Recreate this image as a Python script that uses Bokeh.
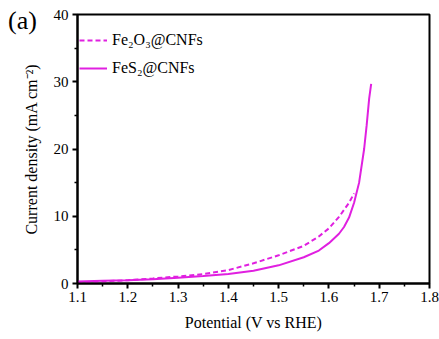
from bokeh.plotting import figure
from bokeh.models import Legend, LegendItem, Range1d, FixedTicker, Div
from bokeh.layouts import column
from bokeh.embed import file_html
from bokeh.resources import INLINE

# Data
v_fe2o3 = [1.10, 1.15, 1.20, 1.25, 1.30, 1.35, 1.40, 1.45, 1.50, 1.55, 1.58, 1.60, 1.62, 1.64, 1.65]
j_fe2o3 = [0.15, 0.30, 0.50, 0.75, 1.05, 1.40, 2.00, 3.00, 4.20, 5.60, 7.00, 8.20, 9.90, 12.0, 13.4]

v_fes2 = [1.10, 1.15, 1.20, 1.25, 1.30, 1.35, 1.40, 1.45, 1.50, 1.55, 1.58, 1.60, 1.62, 1.63, 1.64,
          1.65, 1.66, 1.67, 1.675, 1.68, 1.684]
j_fes2 = [0.30, 0.40, 0.50, 0.65, 0.85, 1.10, 1.40, 1.90, 2.70, 3.90, 4.90, 6.00, 7.40, 8.40, 9.80,
          12.0, 15.0, 20.0, 23.5, 27.5, 29.7]

x_ticks = [1.1, 1.2, 1.3, 1.4, 1.5, 1.6, 1.7, 1.8]
y_ticks = [0, 10, 20, 30, 40]
labels = ["Fe\u2082O\u2083@CNFs", "FeS\u2082@CNFs"]
panel_tag = "(a)"

COLOR = "#E020E0"
FONT = "Liberation Serif"

p = figure(width=439, height=339, output_backend="svg", toolbar_location=None,
           x_range=Range1d(1.1, 1.8), y_range=Range1d(0, 40),
           min_border_left=77, min_border_right=10, min_border_top=14, min_border_bottom=56)
p.background_fill_color = "white"
p.border_fill_color = "white"
p.outline_line_color = "black"
p.outline_line_width = 2
p.xgrid.visible = False
p.ygrid.visible = False

r1 = p.line(v_fe2o3, j_fe2o3, line_color=COLOR, line_width=2, line_dash="5 3")
r2 = p.line(v_fes2, j_fes2, line_color=COLOR, line_width=2)

for ax in (p.xaxis[0], p.yaxis[0]):
    ax.axis_line_width = 2
    ax.major_tick_line_width = 2
    ax.minor_tick_line_width = 1.5
    ax.major_tick_in = 0
    ax.major_tick_out = 5
    ax.minor_tick_in = 0
    ax.minor_tick_out = 3
    ax.major_label_text_font = FONT
    ax.major_label_text_font_style = "normal"
    ax.major_label_text_font_size = "15px"
    ax.major_label_text_color = "black"
    ax.axis_label_text_font = FONT
    ax.axis_label_text_font_style = "normal"
    ax.axis_label_text_font_size = "16px"
    ax.axis_label_text_color = "black"

p.xaxis[0].ticker = FixedTicker(ticks=x_ticks,
                                minor_ticks=[round(t + 0.05, 3) for t in x_ticks[:-1]])
p.yaxis[0].ticker = FixedTicker(ticks=y_ticks,
                                minor_ticks=[t + 5 for t in y_ticks[:-1]])
p.xaxis[0].major_label_overrides = {t: f"{t:.1f}" for t in x_ticks}
p.xaxis[0].axis_label = "Potential (V vs RHE)"
p.xaxis[0].major_label_standoff = 3
p.xaxis[0].axis_label_standoff = 9
p.yaxis[0].axis_label = "Current density (mA cm\u207b\u00b2)"
p.yaxis[0].major_label_standoff = 4
p.yaxis[0].axis_label_standoff = 11

legend = Legend(items=[LegendItem(label=labels[0], renderers=[r1]),
                       LegendItem(label=labels[1], renderers=[r2])],
                location=(2, 205), orientation="vertical")
legend.glyph_width = 28
legend.glyph_height = 20
legend.label_height = 20
legend.label_standoff = 5
legend.spacing = 8
legend.padding = 0
legend.margin = 0
legend.border_line_color = None
legend.background_fill_alpha = 0
legend.label_text_font = FONT
legend.label_text_font_style = "normal"
legend.label_text_font_size = "16px"
legend.label_text_color = "black"
p.add_layout(legend)

tag = Div(text=panel_tag, width=40, height=30,
          styles={"position": "absolute", "left": "3px", "top": "3px", "z-index": "10",
                  "font-family": FONT, "font-size": "26px", "line-height": "1",
                  "color": "black"})

layout = column(tag, p)
open("out.html", "w").write(file_html(layout, INLINE))
